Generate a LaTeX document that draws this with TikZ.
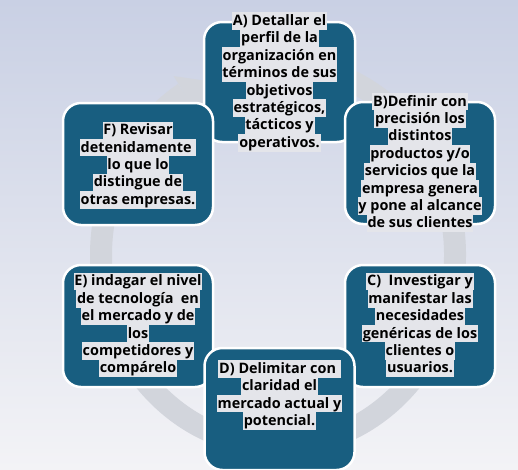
\documentclass[tikz,border=0pt]{standalone}
\usepackage{fontspec}
\setmainfont{Open Sans}
\definecolor{boxblue}{HTML}{185E80}
\definecolor{hlgray}{HTML}{E4E5EA}
\definecolor{ringgray}{HTML}{D2D5DC}
\definecolor{bgtop}{HTML}{C9D0E4}
\definecolor{bgbot}{HTML}{F3F3F6}
\setlength{\fboxsep}{0pt}
\newcommand{\hlline}[1]{\colorbox{hlgray}{\rule[-4.3pt]{0pt}{17.4pt}\kern0.8pt#1\kern0.8pt}}
\tikzset{
  bx/.style={draw=white, line width=2.5pt, fill=boxblue, rounded corners=18pt,
    minimum width=150pt, minimum height=122pt, inner sep=0pt},
  txt/.style={font=\bfseries\fontsize{14.4}{17.4}\selectfont, align=center,
    inner sep=0pt, text=black}
}
\begin{document}
\begin{tikzpicture}[x=1pt,y=-1pt]
\useasboundingbox (0,0) rectangle (518,469);
\shade[top color=bgtop,bottom color=bgbot] (0,0) rectangle (518,469);
% background circular arrow
\begin{scope}[shift={(278,255)}]
  \draw[ringgray, line width=22pt] (85:177pt and 191pt)
     arc[start angle=85, end angle=-238, x radius=177pt, y radius=191pt];
  \fill[ringgray] (122:197pt and 211pt) -- (108:165pt and 180pt)
     -- (122:152pt and 166pt) -- cycle;
\end{scope}
% boxes
\node[bx, minimum width=151pt, minimum height=120pt] (A) at (279.5,82) {};
\node[bx] (B) at (420,163) {};
\node[bx] (F) at (138,164) {};
\node[bx] (E) at (138,326) {};
\node[bx] (C) at (420,326) {};
\node[bx] (D) at (279.5,409) {};
% texts
\node[txt] (tA) at (279.5,82) {\hlline{A) Detallar el}\\\hlline{perfil de la}\\\hlline{organización en}\\\hlline{términos de sus}\\\hlline{objetivos}\\\hlline{estratégicos,}\\\hlline{tácticos y}\\\hlline{operativos.}};
\node[txt] (tB) at (420,162.5) {\hlline{B)Definir con}\\\hlline{precisión los}\\\hlline{distintos}\\\hlline{productos y/o}\\\hlline{servicios que la}\\\hlline{empresa genera}\\\hlline{y pone al alcance}\\\hlline{de sus clientes}};
\node[txt] (tF) at (138,165) {\hlline{F) Revisar}\\\hlline{detenidamente\ }\\\hlline{lo que lo}\\\hlline{distingue de}\\\hlline{otras empresas.}};
\node[txt] (tE) at (138,325) {\hlline{E) indagar el nivel}\\\hlline{de tecnología\ \ en}\\\hlline{el mercado y de}\\\hlline{los}\\\hlline{competidores y}\\\hlline{compárelo}};
\node[txt] (tC) at (420,325) {\hlline{C)\ \ Investigar y}\\\hlline{manifestar las}\\\hlline{necesidades}\\\hlline{genéricas de los}\\\hlline{clientes o}\\\hlline{usuarios.}};
\node[txt] (tD) at (279.5,395) {\hlline{D) Delimitar con\ }\\\hlline{claridad el}\\\hlline{mercado actual y}\\\hlline{potencial.}};
\end{tikzpicture}
\end{document}
